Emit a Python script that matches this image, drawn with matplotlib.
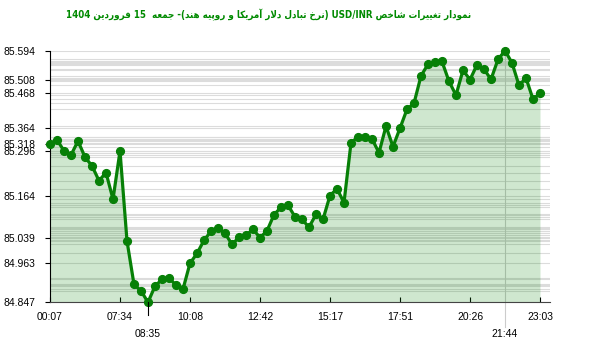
import re
import matplotlib
matplotlib.use("Agg")
import matplotlib.pyplot as plt
from matplotlib.transforms import blended_transform_factory

# ---------------- data ----------------
time_labels = ["00:07", "07:34", "10:08", "12:42", "15:17", "17:51", "20:26", "23:03"]
time_label_idx = [0, 10, 20, 30, 40, 50, 60, 70]
extra_labels = ["08:35", "21:44"]
extra_label_idx = [14, 65]

values = [
    85.318, 85.329, 85.297, 85.284, 85.326, 85.278, 85.252, 85.208, 85.232, 85.153,
    85.296, 85.029, 84.900, 84.881, 84.847, 84.895, 84.915, 84.919, 84.898, 84.886,
    84.963, 84.992, 85.031, 85.058, 85.067, 85.052, 85.019, 85.040, 85.046, 85.064,
    85.039, 85.059, 85.107, 85.129, 85.135, 85.101, 85.093, 85.070, 85.108, 85.093,
    85.164, 85.184, 85.143, 85.320, 85.339, 85.338, 85.332, 85.291, 85.370, 85.309,
    85.364, 85.420, 85.438, 85.519, 85.554, 85.560, 85.562, 85.503, 85.462, 85.536,
    85.508, 85.552, 85.539, 85.509, 85.568, 85.594, 85.558, 85.491, 85.513, 85.450,
    85.468,
]

title_text = "نمودار تغییرات شاخص USD/INR (نرخ تبادل دلار آمریکا و روپیه هند)- جمعه  15 فروردین 1404"

# ---------------- simple Persian shaping + bidi ----------------
FORMS = {
    'ا': ('\uFE8D', '\uFE8E', None, None),
    'آ': ('\uFE81', '\uFE82', None, None),
    'ب': ('\uFE8F', '\uFE90', '\uFE91', '\uFE92'),
    'پ': ('\uFB56', '\uFB57', '\uFB58', '\uFB59'),
    'ت': ('\uFE95', '\uFE96', '\uFE97', '\uFE98'),
    'ج': ('\uFE9D', '\uFE9E', '\uFE9F', '\uFEA0'),
    'خ': ('\uFEA5', '\uFEA6', '\uFEA7', '\uFEA8'),
    'د': ('\uFEA9', '\uFEAA', None, None),
    'ر': ('\uFEAD', '\uFEAE', None, None),
    'ش': ('\uFEB5', '\uFEB6', '\uFEB7', '\uFEB8'),
    'ص': ('\uFEB9', '\uFEBA', '\uFEBB', '\uFEBC'),
    'ع': ('\uFEC9', '\uFECA', '\uFECB', '\uFECC'),
    'غ': ('\uFECD', '\uFECE', '\uFECF', '\uFED0'),
    'ف': ('\uFED1', '\uFED2', '\uFED3', '\uFED4'),
    'ک': ('\uFB8E', '\uFB8F', '\uFB90', '\uFB91'),
    'ل': ('\uFEDD', '\uFEDE', '\uFEDF', '\uFEE0'),
    'م': ('\uFEE1', '\uFEE2', '\uFEE3', '\uFEE4'),
    'ن': ('\uFEE5', '\uFEE6', '\uFEE7', '\uFEE8'),
    'ه': ('\uFEE9', '\uFEEA', '\uFEEB', '\uFEEC'),
    'و': ('\uFEED', '\uFEEE', None, None),
    'ی': ('\uFBFC', '\uFBFD', '\uFBFE', '\uFBFF'),
}
LAMALEF = {'ا': ('\uFEFB', '\uFEFC'), 'آ': ('\uFEF5', '\uFEF6')}


def shape(s):
    out = []
    i, n = 0, len(s)
    while i < n:
        c = s[i]
        if c not in FORMS:
            out.append(c)
            i += 1
            continue
        prev = s[i - 1] if i > 0 else ''
        prev_joins = prev in FORMS and FORMS[prev][2] is not None
        if c == 'ل' and i + 1 < n and s[i + 1] in LAMALEF:
            lig = LAMALEF[s[i + 1]]
            out.append(lig[1] if prev_joins else lig[0])
            i += 2
            continue
        nxt = s[i + 1] if i + 1 < n else ''
        nxt_ok = nxt in FORMS
        dual = FORMS[c][2] is not None
        if prev_joins and dual and nxt_ok:
            f = 3
        elif prev_joins:
            f = 1
        elif dual and nxt_ok:
            f = 2
        else:
            f = 0
        out.append(FORMS[c][f])
        i += 1
    return ''.join(out)


def visual(s):
    segs = re.findall(r'[A-Za-z0-9/]+|.', shape(s))
    mirror = {'(': ')', ')': '('}
    return ''.join(mirror.get(t, t) for t in reversed(segs))


# ---------------- figure ----------------
W, H = 600, 352
fig = plt.figure(figsize=(W / 100, H / 100), dpi=100)
ax_left, ax_right, ax_top, ax_bot = 50, 550, 50.7, 302.3
ax = fig.add_axes([ax_left / W, (H - ax_bot) / H, (ax_right - ax_left) / W, (ax_bot - ax_top) / H])

x = list(range(len(values)))
step_px = 7.0
ymin, ymax = min(values), max(values)
ax.set_xlim(0, (ax_right - ax_left) / step_px)
ax.set_ylim(ymin, ymax)

# horizontal grid lines at every value
for v in sorted(set(values)):
    ax.axhline(v, color='#dcdcdc', lw=0.8, zorder=1)

# vertical marker line at max
imax = values.index(ymax)
trans = blended_transform_factory(ax.transData, ax.transAxes)
ax.plot([imax, imax], [-0.098, 1], color='#cccccc', lw=0.8, transform=trans, clip_on=False, zorder=1)

ax.fill_between(x, values, ymin, color='#008000', alpha=0.19, lw=0, zorder=2)
ax.plot(x, values, color='#078007', lw=2.3, marker='o', markersize=5.6, zorder=4, clip_on=False)

# spines
for s in ('top', 'right'):
    ax.spines[s].set_visible(False)
ax.spines['left'].set_color('black')
ax.spines['left'].set_linewidth(0.8)
ax.spines['bottom'].set_color('#444444')
ax.spines['bottom'].set_linewidth(0.8)

tick_font = dict(family='Liberation Sans', size=7.5)

# y ticks: values at labelled points
ytick_idx = time_label_idx + extra_label_idx
yt = [values[i] for i in ytick_idx]
ax.set_yticks(yt)
ax.set_yticklabels([f"{v:.3f}" for v in yt], fontdict=tick_font)
ax.tick_params(axis='y', direction='out', length=3.6, width=0.8, pad=7, colors='black')

# x ticks
ax.set_xticks(time_label_idx)
ax.set_xticklabels(time_labels, fontdict=tick_font)
ax.tick_params(axis='x', direction='in', length=3.8, width=0.8, pad=7, colors='black')

# second row labels
ax.plot([extra_label_idx[0]] * 2, [0, -0.052], color='black', lw=0.8, transform=trans, clip_on=False, zorder=5)
for lab, i in zip(extra_labels, extra_label_idx):
    ax.annotate(lab, xy=(i, 0), xycoords=trans, xytext=(0, -19), textcoords='offset points',
                ha='center', va='top', fontfamily='Liberation Sans', fontsize=7.5)

# title
fig.text(268.5 / W, 1 - 14.5 / H, visual(title_text), ha='center', va='center',
         fontfamily=['DejaVu Sans'], fontstretch='condensed', fontweight='bold',
         fontsize=7.0, color='#008a00')

fig.savefig('out.png', dpi=100)
